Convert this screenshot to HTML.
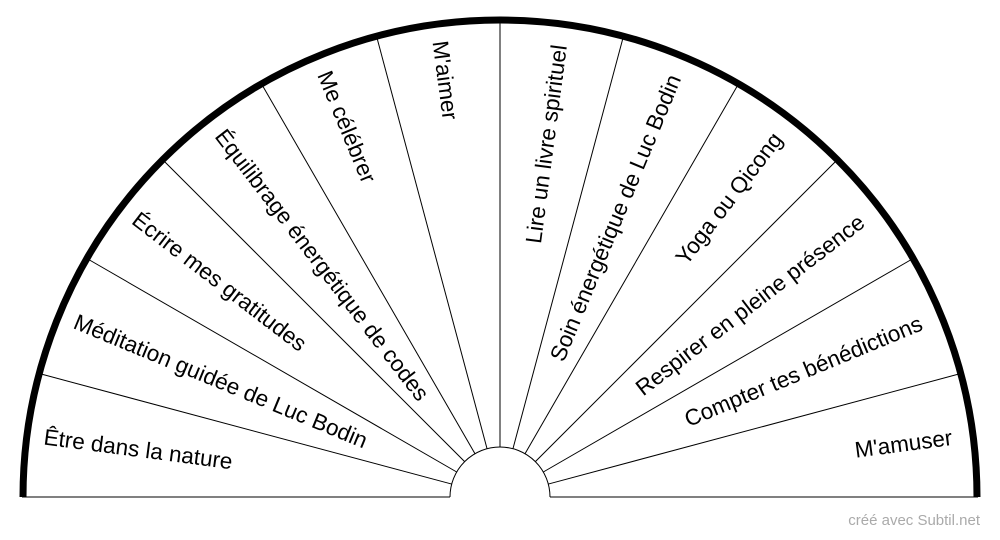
<!DOCTYPE html>
<html><head><meta charset="utf-8"><style>
html,body{margin:0;padding:0;background:#fff;width:1000px;height:540px;overflow:hidden}
svg{display:block}
text{font-family:"Liberation Sans",Arial,sans-serif;font-size:22.5px;fill:#000}
</style></head><body>
<svg width="1000" height="540" viewBox="0 0 1000 540">
<g stroke="#000" stroke-width="1" fill="none">
<line x1="22" y1="497" x2="450" y2="497"/>
<line x1="550" y1="497" x2="978" y2="497"/>
<path d="M450,497 A50,50 0 0 1 550,497"/>
<g transform="translate(500,497)">
<line x1="50" y1="0" x2="477" y2="0" transform="rotate(-15)"/>
<line x1="50" y1="0" x2="477" y2="0" transform="rotate(-30)"/>
<line x1="50" y1="0" x2="477" y2="0" transform="rotate(-45)"/>
<line x1="50" y1="0" x2="477" y2="0" transform="rotate(-60)"/>
<line x1="50" y1="0" x2="477" y2="0" transform="rotate(-75)"/>
<line x1="50" y1="0" x2="477" y2="0" transform="rotate(-90)"/>
<line x1="50" y1="0" x2="477" y2="0" transform="rotate(-105)"/>
<line x1="50" y1="0" x2="477" y2="0" transform="rotate(-120)"/>
<line x1="50" y1="0" x2="477" y2="0" transform="rotate(-135)"/>
<line x1="50" y1="0" x2="477" y2="0" transform="rotate(-150)"/>
<line x1="50" y1="0" x2="477" y2="0" transform="rotate(-165)"/>
</g>
</g>
<path d="M23,497 A477,477 0 0 1 977,497" stroke="#000" stroke-width="7" fill="none"/>
<g transform="translate(500,497)" dominant-baseline="central">
<text transform="rotate(7.5)" x="-460">Être dans la nature</text>
<text transform="rotate(22.5)" x="-460">Méditation guidée de Luc Bodin</text>
<text transform="rotate(37.5)" x="-460">Écrire mes gratitudes</text>
<text transform="rotate(52.5)" x="-460">Équilibrage énergétique de codes</text>
<text transform="rotate(67.5)" x="-460">Me célébrer</text>
<text transform="rotate(82.5)" x="-460">M'aimer</text>
<text transform="rotate(-82.5)" x="456" text-anchor="end">Lire un livre spirituel</text>
<text transform="rotate(-67.5)" x="456" text-anchor="end">Soin énergétique de Luc Bodin</text>
<text transform="rotate(-52.5)" x="456" text-anchor="end">Yoga ou Qicong</text>
<text transform="rotate(-37.5)" x="456" text-anchor="end">Respirer en pleine présence</text>
<text transform="rotate(-22.5)" x="456" text-anchor="end">Compter tes bénédictions</text>
<text transform="rotate(-7.5)" x="456" text-anchor="end">M'amuser</text>
</g>
<text x="980" y="525" text-anchor="end" style="font-size:15px;fill:#aaa">créé avec Subtil.net</text>
</svg>
</body></html>
